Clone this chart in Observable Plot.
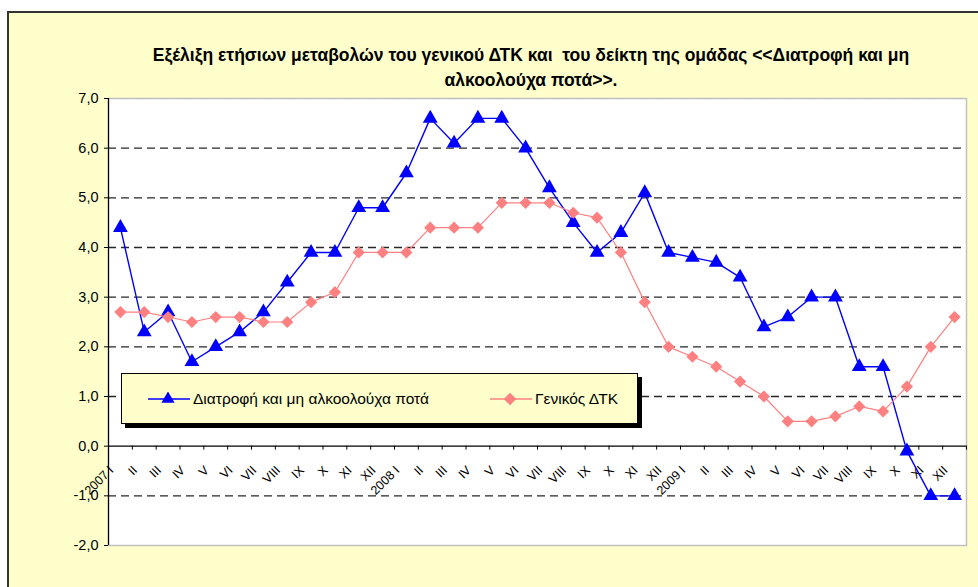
<!DOCTYPE html>
<html>
<head>
<meta charset="utf-8">
<script src="https://cdn.jsdelivr.net/npm/d3@7"></script>
<script src="https://cdn.jsdelivr.net/npm/@observablehq/plot@0.6"></script>
<style>
  body { margin: 0; background: #fff; font-family: "Liberation Sans", Arial, sans-serif; }
  #frame { position: absolute; left: 7px; top: 11px; width: 980px; height: 585px; background: #FFFFCC; border-left: 2px solid #333; border-top: 2px solid #333; }
  #title { position: absolute; left: 100px; width: 862px; top: 43px; text-align: center; font-weight: bold; font-size: 17.5px; line-height: 25px; color: #000; }
  #chart { position: absolute; left: 0; top: 0; }
  #legend { position: absolute; left: 121px; top: 373px; width: 515px; height: 49px; background: #FFFFCC; border: 1px solid #000; box-shadow: 4px 4px 0 #000; font-size: 15.5px; }
  .item { position: absolute; top: 0; height: 49px; display: flex; align-items: center; }
  .item svg { display: block; margin-right: 3px; }
</style>
</head>
<body>
<div id="frame"></div>
<div id="title">Εξέλιξη ετήσιων μεταβολών του γενικού ΔΤΚ και &nbsp;του δείκτη της ομάδας &lt;&lt;Διατροφή και μη<br>αλκοολούχα ποτά&gt;&gt;.</div>
<div id="chart"></div>
<div id="legend"></div>
<script>
const years = ["2007", "2008", "2009"];
const months = ["I", "II", "III", "IV", "V", "VI", "VII", "VIII", "IX", "X", "XI", "XII"];
const seriesNames = ["Διατροφή και μη αλκοολούχα ποτά", "Γενικός ΔΤΚ"];
const food = [4.4, 2.3, 2.7, 1.7, 2.0, 2.3, 2.7, 3.3, 3.9, 3.9, 4.8, 4.8,
              5.5, 6.6, 6.1, 6.6, 6.6, 6.0, 5.2, 4.5, 3.9, 4.3, 5.1, 3.9,
              3.8, 3.7, 3.4, 2.4, 2.6, 3.0, 3.0, 1.6, 1.6, -0.1, -1.0, -1.0];
const cpi = [2.7, 2.7, 2.6, 2.5, 2.6, 2.6, 2.5, 2.5, 2.9, 3.1, 3.9, 3.9,
             3.9, 4.4, 4.4, 4.4, 4.9, 4.9, 4.9, 4.7, 4.6, 3.9, 2.9, 2.0,
             1.8, 1.6, 1.3, 1.0, 0.5, 0.5, 0.6, 0.8, 0.7, 1.2, 2.0, 2.6];
const yTicks = [-2, -1, 0, 1, 2, 3, 4, 5, 6, 7];
const gridLines = [-1, 1, 2, 3, 4, 5, 6];

const colors = ["#0000FF", "#FF8080"];

const rows = food.map((v, i) => ({
  i,
  food: v,
  cpi: cpi[i],
  label: i % 12 === 0 ? years[i / 12] + " " + months[0] : months[i % 12]
}));
const bounds = d3.range(food.length + 1).map(k => k - 0.5);

const chart = Plot.plot({
  width: 978,
  height: 587,
  marginTop: 98,
  marginBottom: 42,
  marginLeft: 108,
  marginRight: 12,
  style: { background: "transparent", fontFamily: "'Liberation Sans', Arial, sans-serif", overflow: "visible", color: "#000" },
  x: { type: "linear", domain: [-0.5, food.length - 0.5], axis: null },
  y: { domain: [-2, 7], axis: null },
  marks: [
    Plot.frame({ fill: "white", stroke: "#c0c0c0", strokeWidth: 1.5 }),
    Plot.ruleY(gridLines, { stroke: "#000", strokeOpacity: 0.85, strokeDasharray: "8,5", strokeWidth: 1.3 }),
    Plot.ruleY([7], { stroke: "#bbb", strokeDasharray: "8,5", strokeWidth: 1.2 }),
    Plot.ruleY([0], { stroke: "#000", strokeWidth: 1.2 }),
    Plot.ruleX(bounds, { x: d => d, y1: 0, y2: 0, insetBottom: -4, stroke: "#000" }),
    Plot.ruleX([-0.5], { stroke: "#000", strokeWidth: 1.2 }),
    Plot.axisY({ ticks: yTicks, tickFormat: d => d.toFixed(1).replace(".", ","), tickSize: 4, tickPadding: 6, fontSize: 14.5, stroke: "#000" }),
    Plot.text(rows, { x: "i", y: 0, text: "label", rotate: -45, textAnchor: "end", lineAnchor: "middle", dx: -9, dy: 22, fontSize: 12.5, fill: "#000" }),
    Plot.line(rows, { x: "i", y: "food", stroke: colors[0], strokeWidth: 1.4 }),
    Plot.dot(rows, { x: "i", y: "food", symbol: "triangle", r: 5.5, fill: colors[0], stroke: "none" }),
    Plot.line(rows, { x: "i", y: "cpi", stroke: colors[1], strokeWidth: 1.2 }),
    Plot.dot(rows, { x: "i", y: "cpi", symbol: "diamond2", r: 5.5, fill: colors[1], stroke: "none" })
  ]
});
document.getElementById("chart").appendChild(chart);

// legend
const legend = document.getElementById("legend");
const swatchSpecs = [
  { left: 26, symbol: d3.symbolTriangle, size: 75 },
  { left: 368, symbol: d3.symbolDiamond2, size: 100 }
];
seriesNames.forEach((name, k) => {
  const item = document.createElement("div");
  item.className = "item";
  item.style.left = swatchSpecs[k].left + "px";
  const path = d3.symbol(swatchSpecs[k].symbol, swatchSpecs[k].size)();
  item.innerHTML = `<svg width="42" height="14"><line x1="0" x2="42" y1="7" y2="7" stroke="${colors[k]}" stroke-width="1.3"/><path d="${path}" transform="translate(20,7)" fill="${colors[k]}"/></svg><span>${name}</span>`;
  legend.appendChild(item);
});
</script>
</body>
</html>
